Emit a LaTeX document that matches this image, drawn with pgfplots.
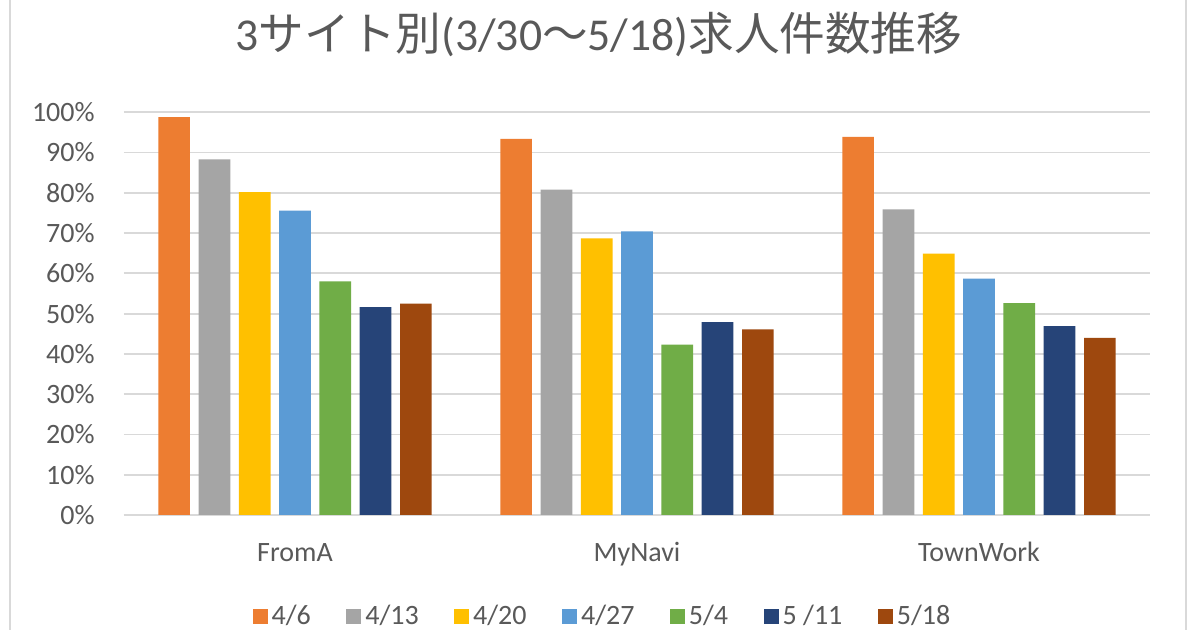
\documentclass[border=0pt]{standalone}
\usepackage{fontspec}
\setmainfont{Carlito}
\newfontfamily\cjk{Noto Sans CJK JP}
\usepackage{pgfplots}
\pgfplotsset{compat=1.18}
\definecolor{c1}{HTML}{ED7D31}
\definecolor{c2}{HTML}{A5A5A5}
\definecolor{c3}{HTML}{FFC000}
\definecolor{c4}{HTML}{5B9BD5}
\definecolor{c5}{HTML}{70AD47}
\definecolor{c6}{HTML}{264478}
\definecolor{c7}{HTML}{9E480E}
\definecolor{txt}{HTML}{595959}
\definecolor{gridc}{HTML}{D9D9D9}
\begin{document}
\begin{tikzpicture}[x=1pt,y=1pt]
\useasboundingbox (0,0) rectangle (600,315);
\fill[white] (0,0) rectangle (600,315);
\draw[line width=1pt, gridc] (5,0) -- (5,315);
\draw[line width=1pt, gridc] (593,0) -- (593,315);
\node[text=txt, font=\fontsize{22.8}{27}\selectfont, inner sep=0pt] at (299.5,298) {3{\cjk サイト別}(3/30{\cjk ～}5/18){\cjk 求人件数推移}};
\begin{axis}[
  at={(62pt,57.5pt)}, anchor=south west,
  scale only axis, width=513pt, height=201.35pt,
  xmin=-0.5, xmax=2.5, ymin=0, ymax=100,
  ybar, bar width=0.0927,
  xtick={0,1,2}, xticklabels={FromA,MyNavi,TownWork},
  ytick={0,10,...,100},
  yticklabel={\pgfmathprintnumber{\tick}\%},
  /pgf/number format/assume math mode=true,
  ymajorgrids, grid style={gridc, line width=0.9pt},
  extra y ticks={0}, extra y tick labels={},
  extra y tick style={grid style={gridc, line width=1.4pt}},
  axis line style={draw=none},
  major tick length=0pt, tick style={draw=none},
  ticklabel style={font=\fontsize{14}{16}\selectfont, text=txt},
  yticklabel style={anchor=east, inner sep=0pt, xshift=-14.5pt},
  xticklabel style={anchor=base, inner sep=0pt, yshift=-23.5pt},
  legend columns=7,
  legend style={at={(0.4673,-0.251)}, anchor=center, draw=none, fill=none,
    font=\fontsize{14}{16}\selectfont, text=txt,
    cells={anchor=west},
    /tikz/every even column/.append style={column sep=15.75pt}},
  legend image code/.code={\fill[#1] (0pt,-3.75pt) rectangle (7.5pt,3.75pt);},
]
\addplot[fill=c1, draw=none, bar shift=-0.3534] coordinates {(0,98.8) (1,93.4) (2,93.9)};
\addplot[fill=c2, draw=none, bar shift=-0.2356] coordinates {(0,88.3) (1,80.8) (2,75.9)};
\addplot[fill=c3, draw=none, bar shift=-0.1178] coordinates {(0,80.2) (1,68.7) (2,64.9)};
\addplot[fill=c4, draw=none, bar shift=0] coordinates {(0,75.6) (1,70.4) (2,58.7)};
\addplot[fill=c5, draw=none, bar shift=0.1178] coordinates {(0,58.0) (1,42.3) (2,52.6)};
\addplot[fill=c6, draw=none, bar shift=0.2356] coordinates {(0,51.6) (1,47.9) (2,46.9)};
\addplot[fill=c7, draw=none, bar shift=0.3534] coordinates {(0,52.5) (1,46.1) (2,44.0)};
\legend{4/6,4/13,4/20,4/27,5/4,5 /11,5/18}
\end{axis}
\end{tikzpicture}
\end{document}
